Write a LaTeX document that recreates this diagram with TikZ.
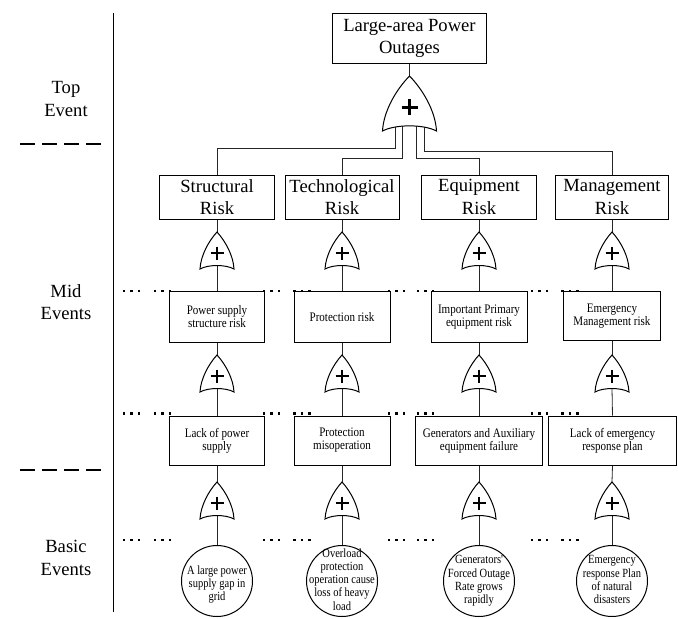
\documentclass[tikz,border=0pt]{standalone}
\usepackage{fontspec}
\setmainfont{Liberation Serif}
\newfontfamily\boxfont[FakeStretch=0.85]{Liberation Serif}
\newfontfamily\circfont[FakeStretch=0.84]{Liberation Serif}
\pgfdeclarelayer{bg}
\pgfsetlayers{bg,main}
\newcommand{\ctext}[2][-3.1pt]{\makebox[0pt]{\raisebox{#1}[0pt][0pt]{\begin{tabular}{@{}c@{}}#2\end{tabular}}}}
\tikzset{
  conn/.style={line width=0.8pt, draw=black!85},
  bigbox/.style={draw, line width=1pt, fill=white, inner sep=0pt, align=center,
    font=\fontsize{18.6}{22.5}\selectfont},
  midbox/.style={draw, line width=1pt, fill=white, inner sep=0pt, align=center,
    font=\boxfont\fontsize{13}{13}\selectfont},
  basic/.style={draw, circle, line width=1pt, fill=white, inner sep=0pt,
    minimum size=71pt, font=\circfont\fontsize{12.5}{13.2}\selectfont},
  levellabel/.style={align=center, font=\fontsize{18.6}{22.5}\selectfont},
  sepline/.style={line width=2pt, dash pattern=on 15pt off 7pt},
  pics/orgate/.style n args={4}{code={
    \draw[line width=1pt, fill=white]
      (-#1/2,#2) .. controls (-0.48*#1,0.64*#2) and (-0.25*#1,0.25*#2) .. (0,0)
      .. controls (0.25*#1,0.25*#2) and (0.48*#1,0.64*#2) .. (#1/2,#2)
      .. controls (0.26*#1,0.875*#2) and (-0.26*#1,0.875*#2) .. cycle;
    \draw[line width=#4] (-#3,0.57*#2) -- (#3,0.57*#2) (0,0.57*#2-#3) -- (0,0.57*#2+#3);
    \coordinate (-top) at (0,0);
    \coordinate (-bot) at (0,0.9*#2);
  }}
}
\begin{document}
\begin{tikzpicture}[x=1pt,y=-1pt]
\useasboundingbox (0,0) rectangle (678,619);

% level labels and separators
\draw[line width=1.6pt] (113.5,13) -- (113.5,612);
\draw[sepline] (20,143.5) -- (102,143.5);
\draw[sepline] (20,470) -- (102,470);
\node[levellabel] (lt) at (66,99) {Top\\Event};
\node[levellabel] (lm) at (66,302) {Mid\\Events};
\node[levellabel] (lb) at (66,558) {Basic\\Events};

% top event
\node[bigbox, minimum width=154pt, minimum height=50pt] (top) at (409.5,38.5) {Large-area Power\\Outages};
\pic (g0) at (409.5,76) {orgate={54}{55}{8}{2.4pt}};

% level 1
\node[bigbox, minimum width=115pt, minimum height=44pt] (s1) at (217,197) {Structural\\Risk};
\node[bigbox, minimum width=114pt, minimum height=44pt] (s2) at (342,197) {Technological\\Risk};
\node[bigbox, minimum width=115pt, minimum height=44pt] (s3) at (479,197) {Equipment\\Risk};
\node[bigbox, minimum width=113pt, minimum height=44pt] (s4) at (612,197) {Management\\Risk};

% level 2
\node[midbox, minimum width=95.5pt, minimum height=50.5pt] (m1) at (217,316.75) {Power supply\\structure risk};
\node[midbox, minimum width=96pt, minimum height=50.5pt] (m2) at (342,316.75) {Protection risk};
\node[midbox, minimum width=96pt, minimum height=50.5pt] (m3) at (479,316.75) {Important Primary\\equipment risk};
\node[midbox, minimum width=96.7pt, minimum height=48.5pt] (m4) at (612,315.75) {Emergency\\Management risk};

% level 3
\node[midbox, minimum width=95.5pt, minimum height=49pt] (n1) at (217,440.5) {Lack of power\\supply};
\node[midbox, minimum width=96pt, minimum height=49pt] (n2) at (342,440.5) {Protection\\misoperation};
\node[midbox, minimum width=126.6pt, minimum height=49pt] (n3) at (479,440.5) {Generators and Auxiliary\\equipment failure};
\node[midbox, minimum width=127.4pt, minimum height=49pt] (n4) at (612.5,440.5) {Lack of emergency\\response plan};

% basic events
\node[basic] (b1) at (217,581) {\ctext[-7pt]{A large power\\supply gap in\\grid}};
\node[basic] (b2) at (342,581) {\ctext{Overload\\protection\\operation cause\\loss of heavy\\load}};
\node[basic] (b3) at (479,581) {\ctext{Generators'\\Forced Outage\\Rate grows\\rapidly}};
\node[basic] (b4) at (612,581) {\ctext{Emergency\\response Plan\\of natural\\disasters}};

% gates
\foreach \i/\x in {1/217,2/342,3/479,4/612} {
  \pic (ga\i) at (\x,232) {orgate={34}{37}{6.5}{1.2pt}};
  \pic (gb\i) at (\x,355) {orgate={34}{37}{6.5}{1.2pt}};
  \pic (gc\i) at (\x,482) {orgate={34}{37}{6.5}{1.2pt}};
}

% connectors
\begin{pgfonlayer}{bg}
\draw[conn] (top.south) -- (g0-top);
\draw[conn] ([xshift=-14.5pt]g0-bot) |- ([yshift=26pt]s1.north) -- (s1.north);
\draw[conn] ([xshift=-7pt]g0-bot) |- ([yshift=16pt]s2.north) -- (s2.north);
\draw[conn] ([xshift=7pt]g0-bot) |- ([yshift=16pt]s3.north) -- (s3.north);
\draw[conn] ([xshift=14.5pt]g0-bot) |- ([yshift=23pt]s4.north) -- (s4.north);
\foreach \i in {1,2,3,4} {
  \draw[conn] (s\i.south) -- (ga\i-top);
  \draw[conn] (ga\i-bot) -- (m\i.north);
  \draw[conn] (m\i.south) -- (gb\i-top);
  \draw[conn] (gb\i-bot) -- (n\i.north);
  \draw[conn] (n\i.south) -- (gc\i-top);
  \draw[conn] (gc\i-bot) -- (b\i.north);
}
\end{pgfonlayer}

% omitted-event dots
\foreach \y in {291,413.5,540} {
  \foreach \s in {124,155,264,294.5,389,418,532,562.5} {
    \foreach \k in {0,1,2} {
      \fill (\s+7.5*\k-1.3,\y-1.3) rectangle ++(2.6,2.6);
    }
  }
}
\end{tikzpicture}
\end{document}
